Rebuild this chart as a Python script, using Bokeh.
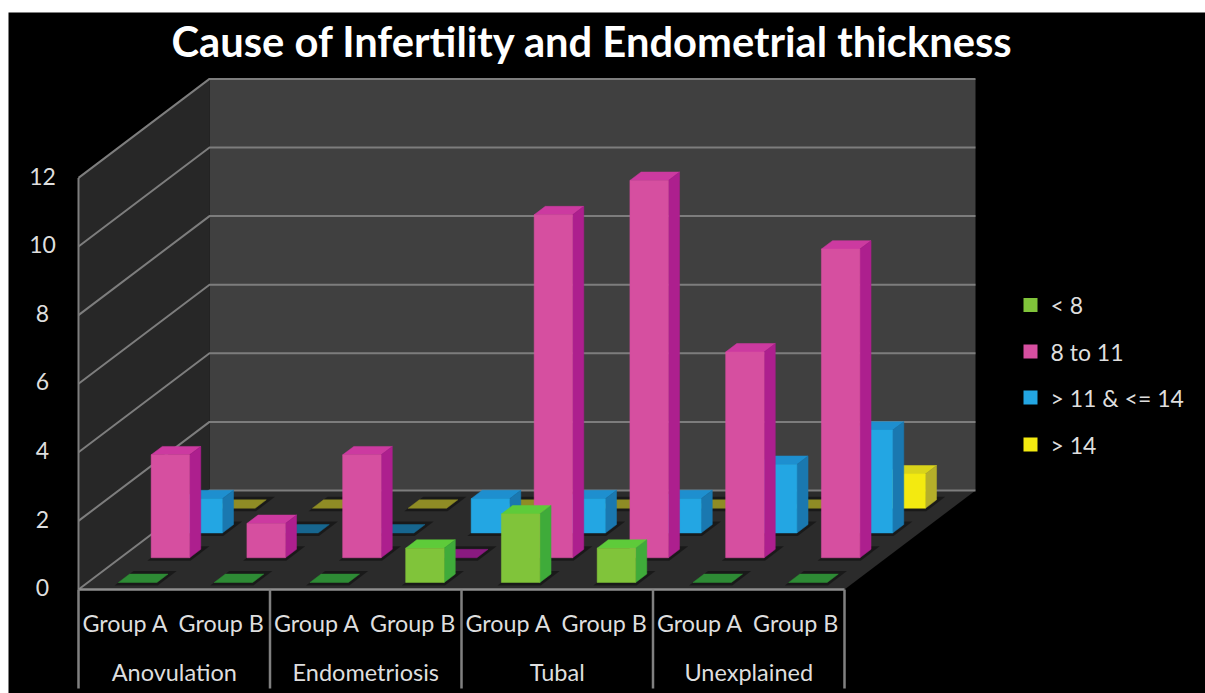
from bokeh.plotting import figure
from bokeh.embed import file_html
from bokeh.resources import INLINE
from bokeh.core.properties import value as fv

TITLE = "Cause of Infertility and Endometrial thickness"
GROUPS = ["Group A", "Group B"] * 4
CAUSES = ["Anovulation", "Endometriosis", "Tubal", "Unexplained"]
TICKS = [0, 2, 4, 6, 8, 10, 12]
SERIES = ["< 8", "8 to 11", "> 11 & <= 14", "> 14"]

lt8 = [0, 0, 0, 1, 2, 1, 0, 0]
from8to11 = [3, 1, 3, 0, 10, 11, 6, 9]
from11to14 = [1, 0, 0, 1, 1, 1, 2, 3]
gt14 = [0, 0, 0, 0, 0, 0, 0, 1]

# pixel calibration of the projected plot box
PX_X0, PX_CAT = 78.0, 95.75
PX_Y0, PX_VAL = 589.0, 34.3
PX_DEPTH_X, PX_DEPTH_Y = 131.0, 99.0
N_DEPTH = 4
DX = PX_DEPTH_X / PX_CAT / N_DEPTH   # category units per depth slot
DY = PX_DEPTH_Y / PX_VAL / N_DEPTH   # value units per depth slot


def cx(px):
    return (px - PX_X0) / PX_CAT


def cy(py):
    return (PX_Y0 - py) / PX_VAL


def proj(x, v, d):
    return x + d * DX, v + d * DY


p = figure(width=1205, height=693, output_backend="svg", toolbar_location=None,
           x_range=(cx(8), cx(1205)), y_range=(cy(693), cy(12)),
           min_border_left=8, min_border_right=0, min_border_top=12, min_border_bottom=0,
           background_fill_color="#000000", border_fill_color="#ffffff",
           outline_line_color=None)
p.xaxis.visible = False
p.yaxis.visible = False
p.grid.visible = False


def face(pts):
    xs, ys = zip(*[proj(*q) for q in pts])
    return list(xs), list(ys)


NC, VMAX = len(GROUPS), TICKS[-1]
# walls and floor
for pts, col in [([(0, 0, N_DEPTH), (NC, 0, N_DEPTH), (NC, VMAX, N_DEPTH), (0, VMAX, N_DEPTH)], "#404040"),
                 ([(0, 0, 0), (0, 0, N_DEPTH), (0, VMAX, N_DEPTH), (0, VMAX, 0)], "#272727"),
                 ([(0, 0, 0), (NC, 0, 0), (NC, 0, N_DEPTH), (0, 0, N_DEPTH)], "#2b2b2b")]:
    xs, ys = face(pts)
    p.patch(xs, ys, fill_color=col, line_color=None)

GRID = "#7d7d7d"
for t in TICKS:
    xs, ys = face([(0, t, 0), (0, t, N_DEPTH), (NC, t, N_DEPTH)])
    p.line(xs, ys, line_color=GRID, line_width=2)
p.line([0, 0], [0, VMAX], line_color=GRID, line_width=2)
p.line([0, NC], [0, 0], line_color="#8e8e8e", line_width=2.5)
for i in range(len(CAUSES) + 1):
    p.line([i * 2, i * 2], [0, cy(688)], line_color="#808080", line_width=2.5)

# bars: back series first so that nearer ones cover them
BAR_LEFT, BAR_W = 0.32, 0.402
BAR_D0, BAR_D = 0.283, 0.34
STYLE = [
    (lt8, "#80c43a", "#3fab3a", "#5ecb3a", "#2e8b35"),
    (from8to11, "#d64fa0", "#ad1f8e", "#cc3aa0", "#8a1a80"),
    (from11to14, "#23a6e3", "#1a78b0", "#1e8fcf", "#17668f"),
    (gt14, "#f3ea10", "#b5af2a", "#d9d41a", "#8f8c25"),
]
for s in range(3, -1, -1):
    vals, c_front, c_side, c_top, c_flat = STYLE[s]
    d0, d1 = s + BAR_D0, s + BAR_D0 + BAR_D
    shadow, bars = ([], []), {"f": ([], []), "s": ([], []), "t": ([], []), "z": ([], [])}
    for g, v in enumerate(vals):
        x0, x1 = g + BAR_LEFT, g + BAR_LEFT + BAR_W
        sx, sy = face([(x0, 0, d0 - 0.12), (x1 + 0.05, 0, d0 - 0.12),
                       (x1 + 0.05, 0, d1 + 0.12), (x0, 0, d1 + 0.12)])
        shadow[0].append(sx); shadow[1].append(sy)
        if v == 0:
            a, b = face([(x0, 0, d0), (x1, 0, d0), (x1, 0, d1), (x0, 0, d1)])
            bars["z"][0].append(a); bars["z"][1].append(b)
            continue
        for key, pts in (("f", [(x0, 0, d0), (x1, 0, d0), (x1, v, d0), (x0, v, d0)]),
                         ("s", [(x1, 0, d0), (x1, 0, d1), (x1, v, d1), (x1, v, d0)]),
                         ("t", [(x0, v, d0), (x1, v, d0), (x1, v, d1), (x0, v, d1)])):
            a, b = face(pts)
            bars[key][0].append(a); bars[key][1].append(b)
    p.patches(shadow[0], shadow[1], fill_color="#000000", fill_alpha=0.4, line_color=None)
    for key, col in (("z", c_flat), ("t", c_top), ("s", c_side), ("f", c_front)):
        if bars[key][0]:
            p.patches(bars[key][0], bars[key][1], fill_color=col, line_color=col, line_width=0.5)

FONT = fv("Lato")
LABEL = "#dedede"


def txt(x, y, s, size, align="center", color=LABEL, style="normal"):
    p.text([x], [y], text=[s], text_font=FONT, text_font_size=f"{size}px", text_color=color,
           text_align=align, text_baseline="middle", text_font_style=style)


txt(cx(592), cy(40), TITLE, 41.7, color="#ffffff", style="bold")
TICK_NUDGE = 1.8 / PX_VAL
for t in TICKS:
    txt(cx(42), t + TICK_NUDGE, str(t), 23)
for g, name in enumerate(GROUPS):
    txt(g + 0.49, cy(622), name, 23.3)
for i, name in enumerate(CAUSES):
    txt(i * 2 + 1, cy(671), name, 23.5)

LEG_Y = [304.5, 351, 397, 444]
for (vals, c_front, *_), s, ly in zip(STYLE, SERIES, LEG_Y):
    p.scatter([cx(1030)], [cy(ly)], marker="square", size=14, fill_color=c_front, line_color=None)
    txt(cx(1050), cy(ly), s, 23, align="left")

open("out.html", "w").write(file_html(p, INLINE))
